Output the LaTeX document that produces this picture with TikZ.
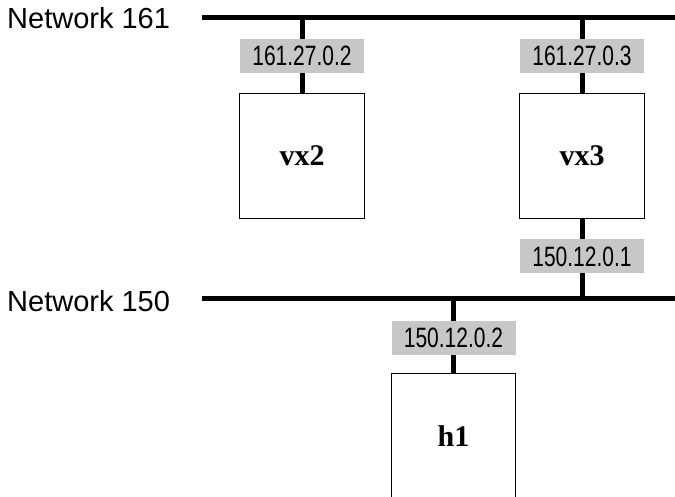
\documentclass[tikz,border=0pt]{standalone}
\usepackage{graphicx}
\usepackage{fontspec}
\setmainfont{Liberation Serif}
\newfontfamily\labelsans{Liberation Sans}
\newcommand\addrtxt[1]{\scalebox{0.75}[1]{#1}}
\begin{document}
\begin{tikzpicture}[x=1pt,y=-1pt,
  net/.style={line width=5pt},
  drop/.style={line width=5pt},
  host/.style={minimum width=124pt, minimum height=125pt, inner sep=0pt,
    font=\fontsize{30}{31}\selectfont\bfseries},
  hostbox/.style={draw, line width=1.3pt},
  addr/.style={fill=black!22, minimum width=124pt, minimum height=34pt, inner sep=0pt,
    font=\labelsans\fontsize{28}{30}\selectfont},
  netlabel/.style={anchor=base west, inner sep=0pt,
    font=\labelsans\fontsize{29}{32}\selectfont}]
\useasboundingbox (0,0) rectangle (675,497);
% network labels
\node[netlabel] (lab161) at (7,29) {Network 161};
\node[netlabel] (lab150) at (7,311) {Network 150};
% network lines
\coordinate (n161a) at (202,18); \coordinate (n161b) at (675,18);
\coordinate (n150a) at (202,298); \coordinate (n150b) at (675,298);
\draw[net] (n161a) -- (n161b);
\draw[net] (n150a) -- (n150b);
% hosts
\node[host] (vx2) at (302,156) {vx2};
\node[host] (vx3) at (582,156) {vx3};
\node[host] (h1) at (453.5,436.5) {h1};
% drop lines
\draw[drop] (vx2.north |- n161a) -- (vx2.north);
\draw[drop] (vx3.north |- n161a) -- (vx3.north);
\draw[drop] (vx3.south) -- (vx3.south |- n150a);
\draw[drop] (h1.north |- n150a) -- (h1.north);
% host boxes
\draw[hostbox] (vx2.south west) rectangle (vx2.north east);
\draw[hostbox] (vx3.south west) rectangle (vx3.north east);
\draw[hostbox] (h1.south west) -- (h1.north west) -- (h1.north east) -- (h1.south east);
% address labels
\node[addr] (a1) at (302,56) {\addrtxt{161.27.0.2}};
\node[addr] (a2) at (582,56) {\addrtxt{161.27.0.3}};
\node[addr] (a3) at (582,256.5) {\addrtxt{150.12.0.1}};
\node[addr] (a4) at (453.5,337.5) {\addrtxt{150.12.0.2}};
\end{tikzpicture}
\end{document}
